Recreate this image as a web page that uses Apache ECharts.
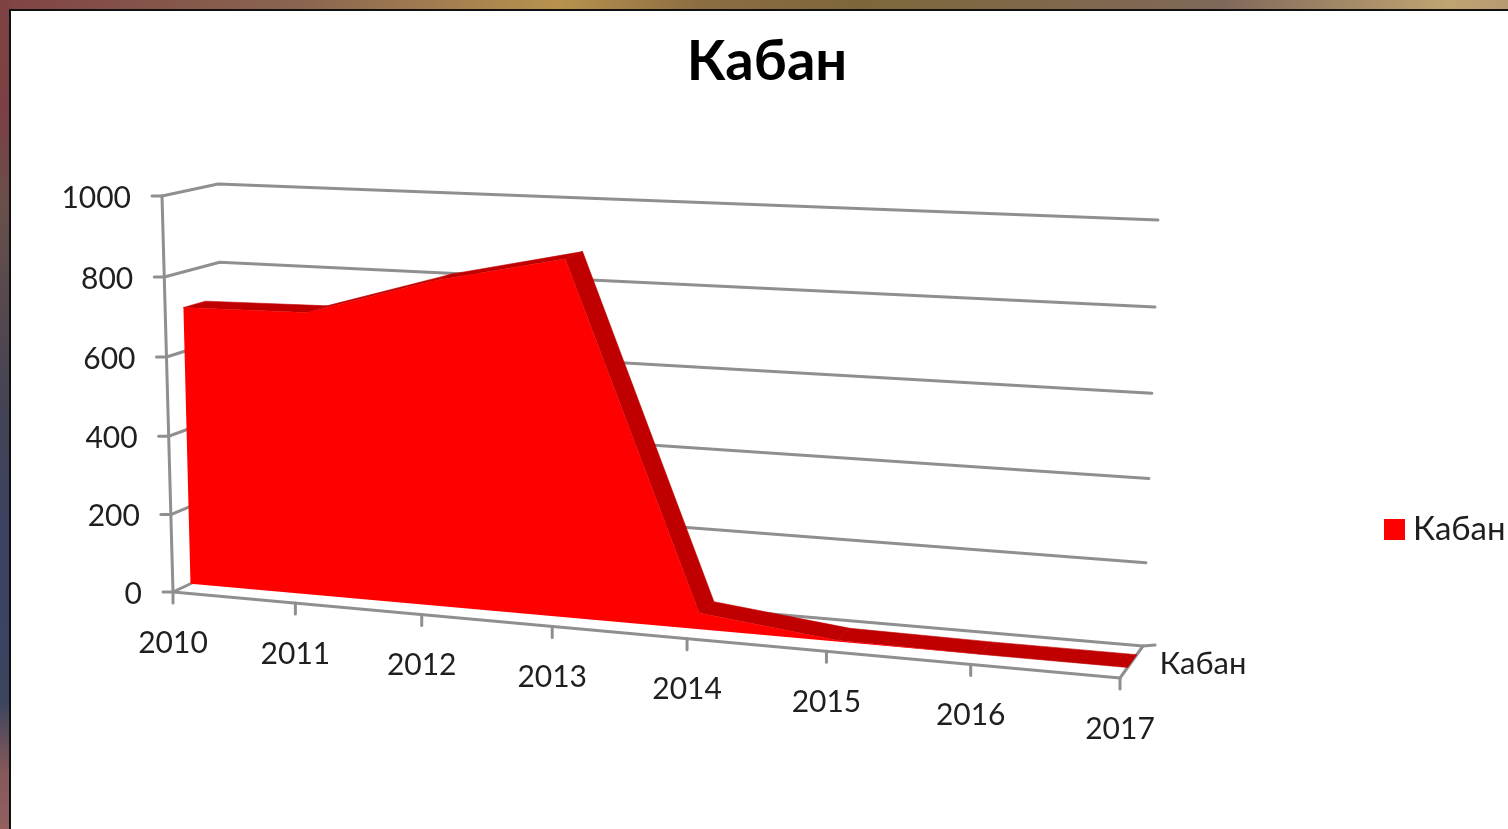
<!DOCTYPE html>
<html><head><meta charset="utf-8">
<style>html,body{margin:0;padding:0;background:#fff;overflow:hidden}#c{width:1508px;height:829px}</style>
<script src="https://cdn.jsdelivr.net/npm/echarts@6/dist/echarts.min.js"></script>
</head><body><div id="c"></div>
<script>
const categories = ['2010','2011','2012','2013','2014','2015','2016','2017'];
const boar = [711, 716, 812, 882, 40, 3, 0, 0];
const valueTicks = [0, 200, 400, 600, 800, 1000];
const seriesName = 'Кабан';

const GRID = {left: 100, top: 100, width: 1000, height: 500};
const FONT = 'Lato, "Noto Sans", sans-serif';
const GREY = '#8f8f8f';
const TEXT = '#1f1f1f';
const corners = {
  f00: [173, 592], f10: [1120, 678], f01: [162, 196], f11: [1133, 243],
  b00: [226, 567], b10: [1143, 646], b01: [218, 184], b11: [1158, 220]
};
const K = 1.123, KV = 1.028, D0 = 0.33, D1 = 0.73;
const lerp = (a, b, t) => [a[0] + (b[0]-a[0])*t, a[1] + (b[1]-a[1])*t];
function project(u, v, d) {
  const s = u / (u + K * (1 - u));
  const w = v / (v + KV * (1 - v));
  const f = lerp(lerp(corners.f00, corners.f10, s), lerp(corners.f01, corners.f11, s), w);
  const b = lerp(lerp(corners.b00, corners.b10, s), lerp(corners.b01, corners.b11, s), w);
  return lerp(f, b, d);
}
function toUV(pt) {
  return [(pt[0]-GRID.left)/GRID.width, (GRID.top+GRID.height-pt[1])/GRID.height];
}
const lineStyle = {stroke: GREY, lineWidth: 3, lineCap: 'round', lineJoin: 'round'};
const poly = (points, z2) => ({type: 'polyline', z2, shape: {points}, style: Object.assign({fill: null}, lineStyle)});

function renderValueTick(params, api) {
  const val = api.value(1);
  const [, v] = toUV(api.coord([0, val]));
  const a = project(0, v, 0), b = project(0, v, 1), c = project(1, v, 1);
  const kids = [poly([a, b, c], 0), poly([[a[0]-10, a[1]], a], 0)];
  if (params.dataIndex === 0) {
    kids.push(poly([project(1, 0, 0), c], 0));
    kids.push(poly([c, [c[0]+12, c[1]-1]], 0));
    kids.push(poly([project(0, 0, 0), project(1, 0, 0)], 3));
    kids.push(poly([project(0, 0, 0), project(0, 1, 0)], 0));
    kids.push({type: 'text', z2: 5, style: {text: seriesName, x: 1203, y: 664, fill: TEXT, font: '31px ' + FONT, align: 'center', verticalAlign: 'middle'}});
  }
  kids.push({type: 'text', z2: 5, style: {text: String(val), x: a[0]-31, y: a[1]+2, fill: TEXT, font: '30px ' + FONT, align: 'right', verticalAlign: 'middle'}});
  return {type: 'group', children: kids};
}
function renderCategoryTick(params, api) {
  const [u] = toUV(api.coord([params.dataIndex, 0]));
  const p = project(u, 0, 0);
  return {type: 'group', children: [
    poly([p, [p[0], p[1]+11]], 3),
    {type: 'text', z2: 5, style: {text: categories[params.dataIndex], x: p[0], y: p[1]+51, fill: TEXT, font: '30px ' + FONT, align: 'center', verticalAlign: 'middle'}}
  ]};
}
function renderArea(params, api) {
  const i = params.dataIndex;
  const last = categories.length - 1;
  const kids = [];
  if (i < last) {
    const [u1, v1] = toUV(api.coord([i, api.value(1, i)]));
    const [u2, v2] = toUV(api.coord([i+1, api.value(1, i+1)]));
    kids.push({type: 'polygon', z2: 1,
      shape: {points: [project(u1,v1,D0), project(u2,v2,D0), project(u2,v2,D1), project(u1,v1,D1)]},
      style: {fill: '#c00000', stroke: '#c00000', lineWidth: 0.6}});
  }
  if (i === 0) {
    const top = [];
    for (let k = 0; k <= last; k++) {
      const [u, v] = toUV(api.coord([k, api.value(1, k)]));
      top.push(project(u, v, D0));
    }
    const [uL] = toUV(api.coord([0, 0]));
    const [uR] = toUV(api.coord([last, 0]));
    kids.push({type: 'polygon', z2: 2,
      shape: {points: [project(uL,0,D0)].concat(top, [project(uR,0,D0)])},
      style: {fill: '#ff0000'}});
  }
  return {type: 'group', children: kids};
}

const chart = echarts.init(document.getElementById('c'), null, {renderer: 'canvas'});
chart.setOption({
  animation: false,
  backgroundColor: '#ffffff',
  title: {text: seriesName, left: 762, top: 29, textAlign: 'center',
    textStyle: {fontFamily: FONT, fontWeight: 'bold', fontSize: 56, color: '#000'}},
  legend: {data: [seriesName], left: 1379, top: 508, itemWidth: 21, itemHeight: 21, itemGap: 0,
    icon: 'rect', textStyle: {fontFamily: FONT, fontSize: 33, color: TEXT, padding: [0,0,0,3]}},
  grid: GRID,
  xAxis: {type: 'category', data: categories, boundaryGap: false, show: false},
  yAxis: {type: 'value', min: 0, max: 1000, interval: 200, show: false},
  graphic: [
    {type: 'rect', silent: true, z: 100, shape: {x: 0, y: 0, width: 1508, height: 9},
     style: {fill: new echarts.graphic.LinearGradient(0,0,1,0,[
       {offset: 0, color: '#804344'}, {offset: 0.2, color: '#8a6550'}, {offset: 0.37, color: '#b8924e'},
       {offset: 0.464, color: '#8c6d42'}, {offset: 0.57, color: '#7d673a'}, {offset: 0.81, color: '#80685a'},
       {offset: 0.96, color: '#bfa570'}, {offset: 1, color: '#b89a72'}])}},
    {type: 'rect', silent: true, z: 100, shape: {x: 0, y: 0, width: 9, height: 829},
     style: {fill: new echarts.graphic.LinearGradient(0,0,0,1,[
       {offset: 0, color: '#804344'}, {offset: 0.133, color: '#7c4044'}, {offset: 0.253, color: '#68504a'},
       {offset: 0.374, color: '#55484f'}, {offset: 0.482, color: '#454455'}, {offset: 0.627, color: '#3c4260'},
       {offset: 0.845, color: '#3a4560'}, {offset: 0.93, color: '#85585a'}, {offset: 1, color: '#93605f'}])}},
    {type: 'rect', silent: true, z: 101, shape: {x: 9, y: 9, width: 1499, height: 2}, style: {fill: '#111'}},
    {type: 'rect', silent: true, z: 101, shape: {x: 9, y: 9, width: 2, height: 820}, style: {fill: '#111'}}
  ],
  series: [
    {type: 'custom', name: 'gridlines', coordinateSystem: 'cartesian2d', silent: true, z: 1,
     data: valueTicks.map(v => [0, v]), encode: {x: 0, y: 1}, renderItem: renderValueTick},
    {type: 'custom', name: seriesName, coordinateSystem: 'cartesian2d', silent: true, z: 2,
     itemStyle: {color: '#ff0000'},
     data: boar.map((v, i) => [i, v]), encode: {x: 0, y: 1}, renderItem: renderArea},
    {type: 'custom', name: 'ticks', coordinateSystem: 'cartesian2d', silent: true, z: 3,
     data: categories.map((c, i) => [i, 0]), encode: {x: 0, y: 1}, renderItem: renderCategoryTick}
  ]
});
</script></body></html>
